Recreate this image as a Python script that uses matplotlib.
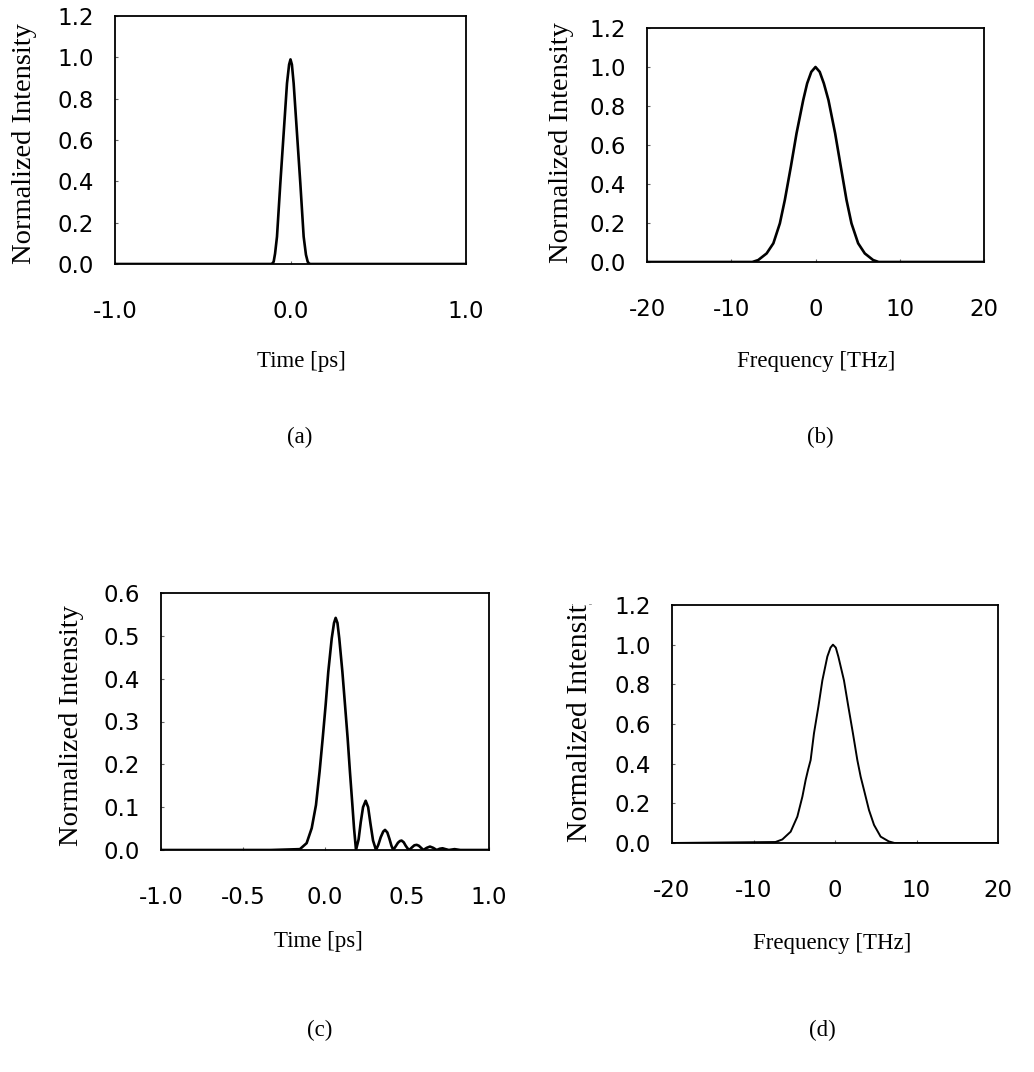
import matplotlib
matplotlib.use("Agg")
import matplotlib.pyplot as plt
from matplotlib.transforms import Bbox, TransformedBbox

# (a) input pulse, time domain
a_time = [-1.0, -0.109, -0.102, -0.096, -0.088, -0.077, -0.058, -0.039, -0.020, -0.008,
          0.0, 0.008, 0.018, 0.037, 0.056, 0.075, 0.088, 0.098, 0.104, 0.110, 1.0]
a_int = [0.0, 0.0, 0.004, 0.011, 0.050, 0.132, 0.390, 0.632, 0.874, 0.965,
         0.99, 0.965, 0.874, 0.632, 0.390, 0.132, 0.045, 0.011, 0.004, 0.0, 0.0]

# (b) input spectrum
b_freq = [-20, -7.5, -6.8, -5.8, -5.0, -4.23, -3.64, -2.92, -2.25, -1.46, -0.99, -0.5,
          0.0, 0.5, 0.99, 1.54, 2.33, 3.0, 3.68, 4.27, 5.06, 5.85, 6.84, 7.5, 20]
b_int = [0.0, 0.0, 0.01, 0.044, 0.096, 0.198, 0.318, 0.49, 0.66, 0.83, 0.916, 0.975,
         1.0, 0.975, 0.916, 0.83, 0.66, 0.49, 0.318, 0.198, 0.096, 0.044, 0.01, 0.0, 0.0]

# (c) output pulse, main peak + ringing tail
c_time = [-1.0, -0.33, -0.153, -0.112, -0.081, -0.055, -0.033, -0.014, 0.004, 0.020,
          0.041, 0.055, 0.065, 0.076, 0.087, 0.106, 0.122, 0.138, 0.152, 0.167, 0.177,
          0.189, 0.205, 0.218, 0.232, 0.248, 0.263, 0.277, 0.293,
          0.311, 0.325, 0.340, 0.355, 0.366, 0.380, 0.393, 0.405,
          0.416, 0.430, 0.445, 0.457, 0.467, 0.480, 0.492, 0.503,
          0.514, 0.530, 0.545, 0.559, 0.572, 0.586,
          0.600, 0.620, 0.640, 0.660,
          0.681, 0.700, 0.717, 0.735, 0.755, 0.790, 0.825, 1.0]
c_int = [0.0, 0.0, 0.002, 0.016, 0.051, 0.105, 0.183, 0.261, 0.339, 0.416,
         0.494, 0.530, 0.542, 0.530, 0.494, 0.416, 0.339, 0.261, 0.183, 0.105, 0.051,
         0.0, 0.025, 0.065, 0.100, 0.115, 0.100, 0.062, 0.022,
         0.0, 0.012, 0.030, 0.043, 0.047, 0.041, 0.026, 0.010,
         0.0, 0.008, 0.017, 0.021, 0.022, 0.018, 0.010, 0.004,
         0.0, 0.006, 0.011, 0.012, 0.010, 0.005,
         0.0, 0.005, 0.008, 0.005,
         0.0, 0.003, 0.004, 0.002, 0.0, 0.002, 0.0, 0.0]

# (d) output spectrum
d_freq = [-20, -7.3, -6.46, -5.44, -4.62, -4.0, -3.6, -3.3, -2.99, -2.58, -2.04, -1.55,
          -0.94, -0.55, -0.25, 0.1, 0.41, 1.1, 1.64, 2.2, 2.74, 3.15, 3.56, 4.17, 4.79,
          5.6, 6.6, 7.3, 20]
d_int = [0.0, 0.005, 0.018, 0.057, 0.133, 0.234, 0.318, 0.37, 0.418, 0.553, 0.687, 0.82,
         0.94, 0.985, 1.0, 0.985, 0.94, 0.82, 0.687, 0.553, 0.418, 0.334, 0.267, 0.166,
         0.091, 0.032, 0.008, 0.0, 0.0]

a_xticks = [-1.0, 0.0, 1.0]
c_xticks = [-1.0, -0.5, 0.0, 0.5, 1.0]
f_xticks = [-20, -10, 0, 10, 20]
y12_ticks = [0.0, 0.2, 0.4, 0.6, 0.8, 1.0, 1.2]
y06_ticks = [0.0, 0.1, 0.2, 0.3, 0.4, 0.5, 0.6]

W, H = 1034, 1072
fig = plt.figure(figsize=(W / 100, H / 100), dpi=100)

SERIF = "Liberation Serif"
TICK_FS = 16.5
LAB_FS = 16.5
YLAB_FS = 20.5


def box(l, r, t, b):
    # pixel edges -> figure fraction rect
    return [l / W, 1 - b / H, (r - l) / W, (b - t) / H]


def style(ax, xt, yt, xfmt, yfmt):
    ax.set_xticks(xt)
    ax.set_yticks(yt)
    ax.set_xticklabels([xfmt % v for v in xt], fontsize=TICK_FS, family="DejaVu Sans")
    ax.set_yticklabels([yfmt % v for v in yt], fontsize=TICK_FS, family="DejaVu Sans")
    ax.tick_params(direction="in", length=2, width=0.8, color="0.4")
    ax.tick_params(axis="x", pad=26)
    ax.tick_params(axis="y", pad=15)
    for s in ax.spines.values():
        s.set_linewidth(1.3)


panels = [
    (box(115, 466, 16, 264), a_time, a_int, (-1, 1), (0, 1.2), a_xticks, y12_ticks, "%.1f", 1.9),
    (box(647, 984, 28, 262), b_freq, b_int, (-20, 20), (0, 1.2), f_xticks, y12_ticks, "%d", 1.9),
    (box(161, 489, 593, 850), c_time, c_int, (-1, 1), (0, 0.6), c_xticks, y06_ticks, "%.1f", 1.9),
    (box(672, 998, 605, 843), d_freq, d_int, (-20, 20), (0, 1.2), f_xticks, y12_ticks, "%d", 1.4),
]

for rect, xs, ys, xl, yl, xt, yt, xfmt, lw in panels:
    ax = fig.add_axes(rect)
    ax.plot(xs, ys, color="black", lw=lw, solid_joinstyle="round")
    ax.set_xlim(*xl)
    ax.set_ylim(*yl)
    style(ax, xt, yt, xfmt, "%.1f")

# axis titles and captions
fig.text(301 / W, 1 - 362 / H, "Time [ps]", fontsize=LAB_FS, family=SERIF, ha="center", va="center")
fig.text(816 / W, 1 - 362 / H, "Frequency [THz]", fontsize=LAB_FS, family=SERIF, ha="center", va="center")
fig.text(318 / W, 1 - 942 / H, "Time [ps]", fontsize=LAB_FS, family=SERIF, ha="center", va="center")
fig.text(832 / W, 1 - 944 / H, "Frequency [THz]", fontsize=LAB_FS, family=SERIF, ha="center", va="center")

fig.text(300 / W, 1 - 437 / H, "(a)", fontsize=LAB_FS, family=SERIF, ha="center", va="center")
fig.text(820 / W, 1 - 437 / H, "(b)", fontsize=LAB_FS, family=SERIF, ha="center", va="center")
fig.text(320 / W, 1 - 1030 / H, "(c)", fontsize=LAB_FS, family=SERIF, ha="center", va="center")
fig.text(822 / W, 1 - 1030 / H, "(d)", fontsize=LAB_FS, family=SERIF, ha="center", va="center")

# rotated y labels
fig.text(25 / W, 1 - 264 / H, "Normalized Intensity", rotation=90, fontsize=YLAB_FS,
         family=SERIF, ha="center", va="bottom")
fig.text(562 / W, 1 - 263 / H, "Normalized Intensity", rotation=90, fontsize=YLAB_FS,
         family=SERIF, ha="center", va="bottom")
fig.text(72 / W, 1 - 846 / H, "Normalized Intensity", rotation=90, fontsize=YLAB_FS,
         family=SERIF, ha="center", va="bottom")
tx = fig.text(580 / W, 1 - 842 / H, "Normalized Intensity", rotation=90, fontsize=21.5,
              family=SERIF, ha="center", va="bottom")
# the scan cuts this one off at the top
tx.set_clip_box(TransformedBbox(Bbox([[0, 0], [1, 1 - 604 / H]]), fig.transFigure))
tx.set_clip_on(True)

fig.savefig("out.png", dpi=100)
